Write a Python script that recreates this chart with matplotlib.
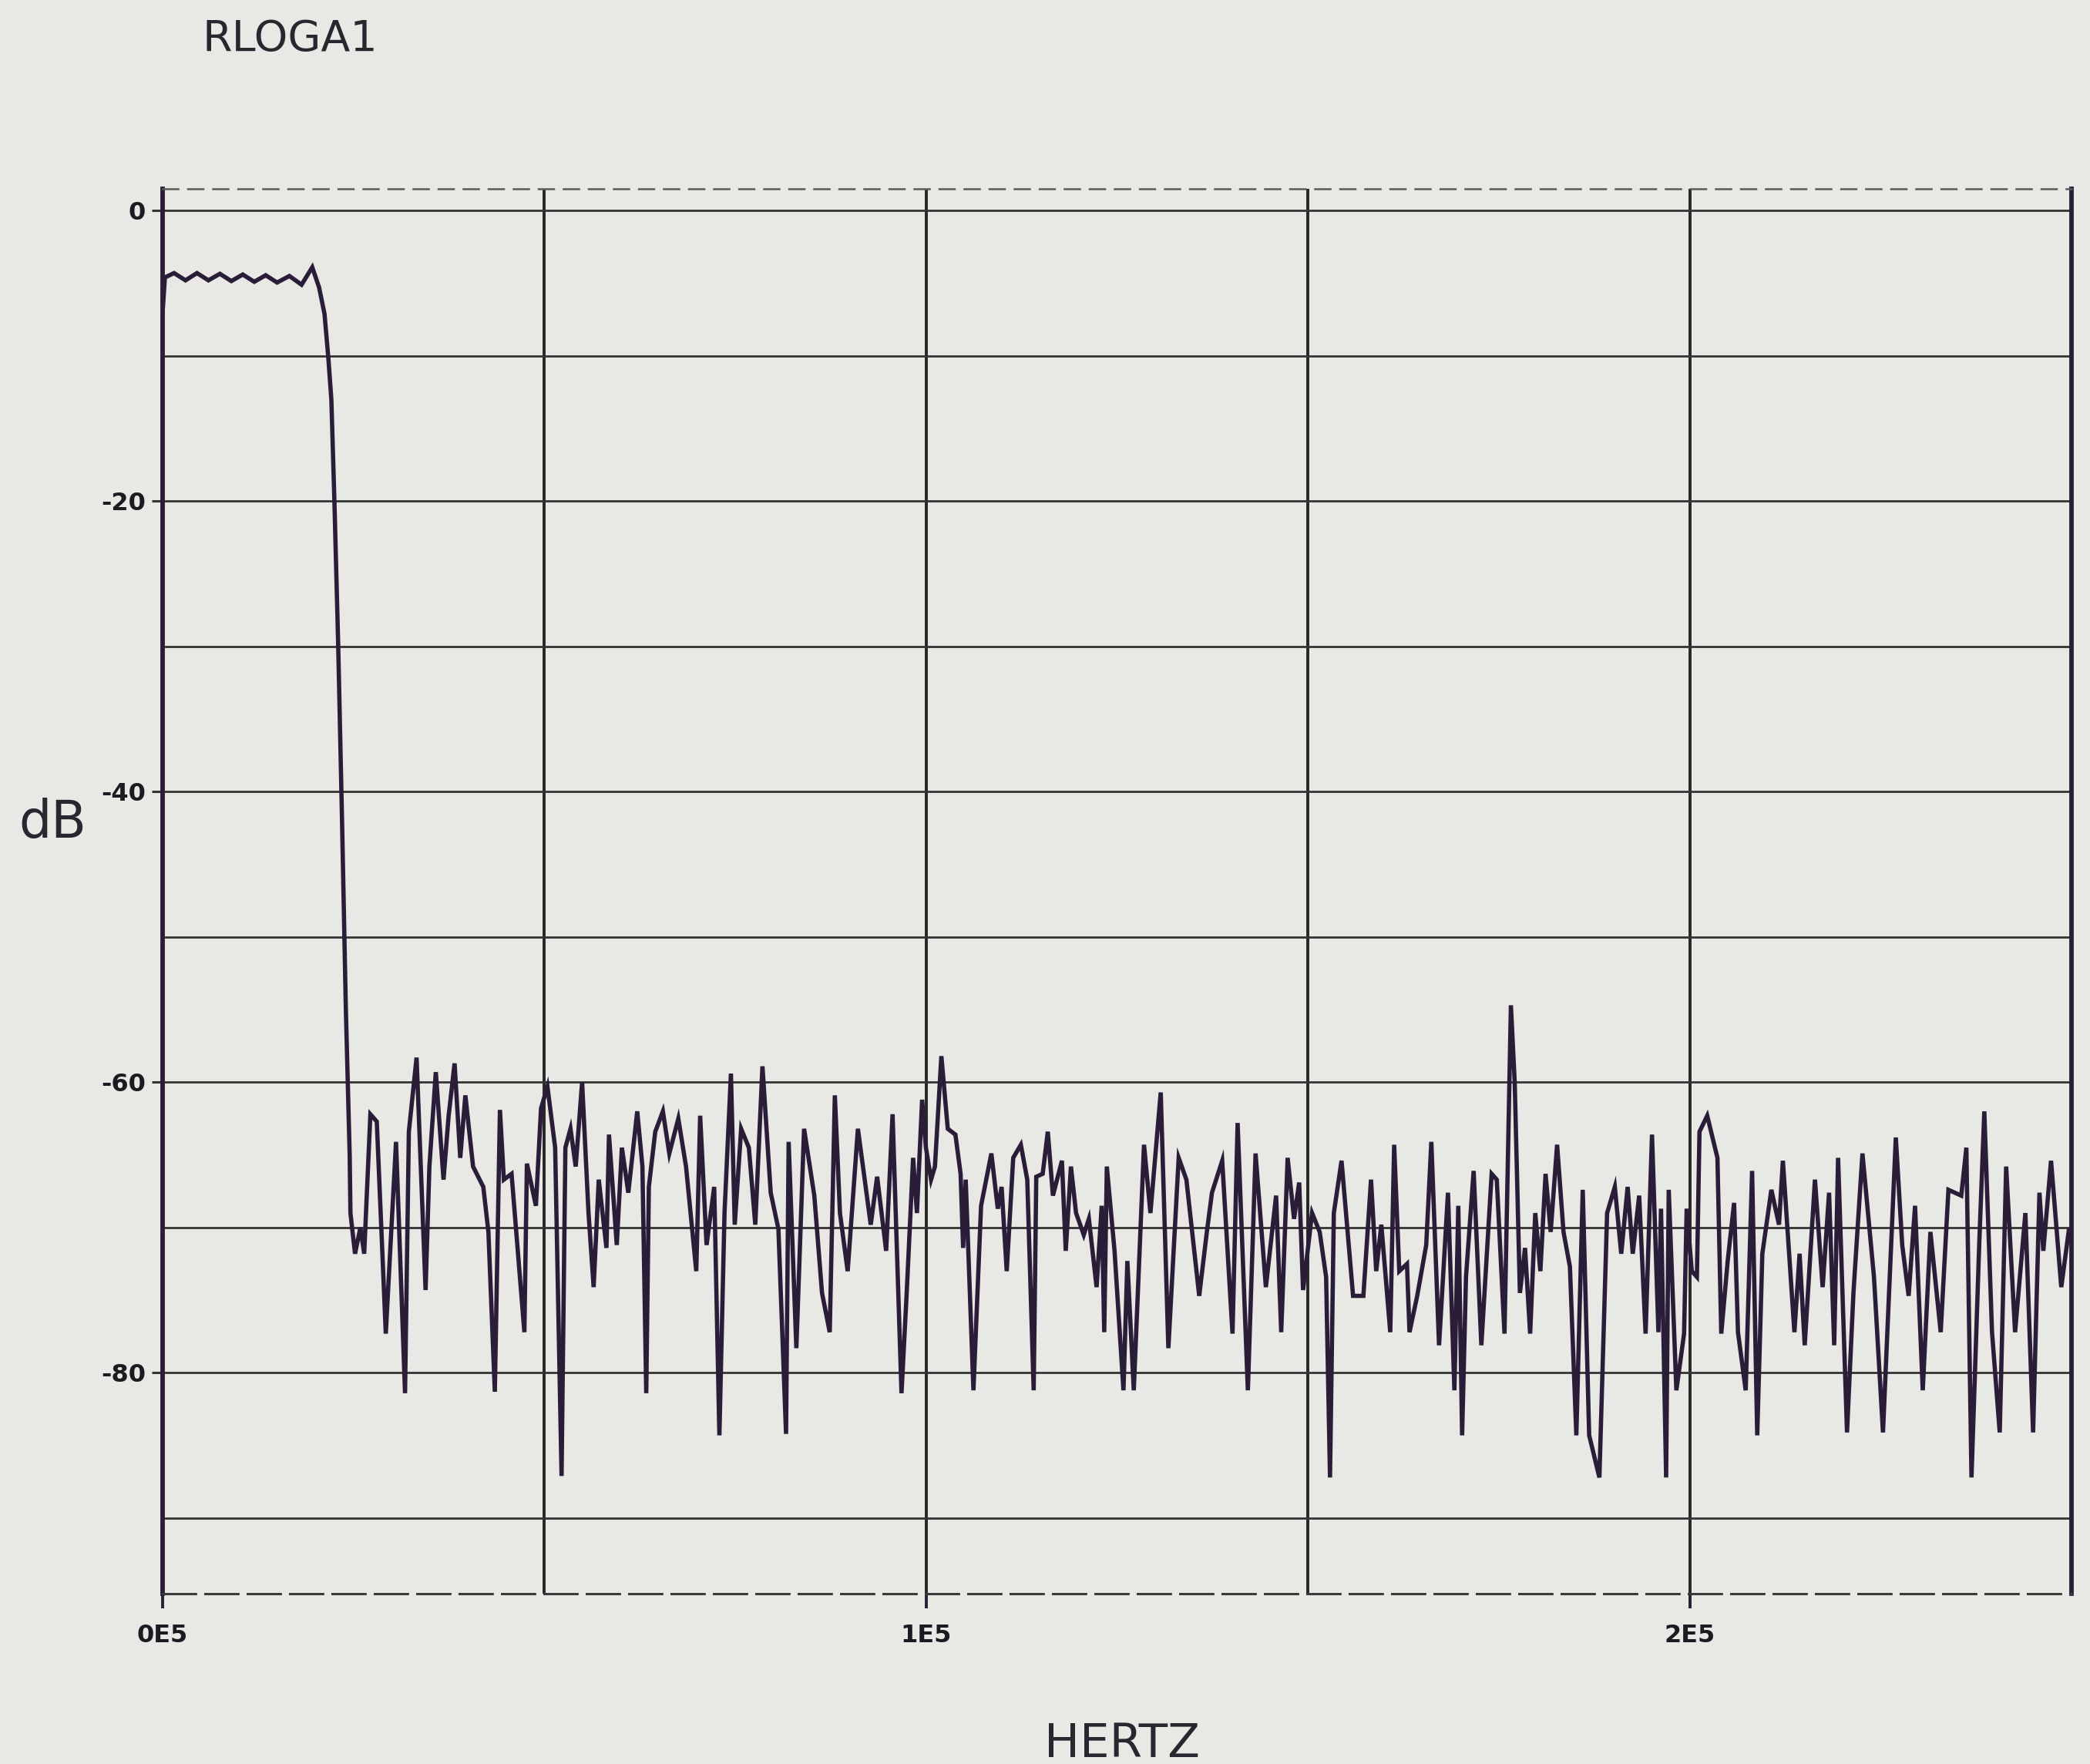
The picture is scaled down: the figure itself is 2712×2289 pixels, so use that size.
import matplotlib
matplotlib.use("Agg")
import matplotlib.pyplot as plt
import numpy as np

# ---------------- data ----------------
pass_khz = [0.0, 0.3, 1.5, 3.0, 4.5, 6.0, 7.5, 9.0, 10.5, 12.0, 13.5, 15.0, 16.6, 18.2, 19.6]
pass_db = [-7.0, -4.6, -4.3, -4.8, -4.3, -4.8, -4.35, -4.85, -4.4, -4.9, -4.45, -4.95, -4.5, -5.1, -3.9]

trans_khz = [20.5, 21.2, 21.7, 22.1, 22.5, 23.0, 23.5, 24.0, 24.5]
trans_db = [-5.3, -7.1, -10.1, -13.0, -20.0, -30.0, -42.0, -55.0, -65.0]

stop_khz = [
    24.6, 25.2, 25.9, 26.4, 27.21, 28.05, 29.23, 30.57, 31.75, 32.25, 33.26, 34.44, 34.94, 35.78,
    36.79, 37.46, 38.24, 38.98, 39.65, 40.66, 42.00, 42.67, 43.51, 44.18, 44.69, 45.70, 47.38,
    47.71, 48.89, 49.56, 50.40, 51.41, 52.25, 52.75, 53.42, 54.10, 54.94, 55.78, 56.45, 57.12,
    58.13, 58.46, 59.48, 60.15, 60.99, 62.16, 62.84, 63.34, 63.68, 64.52, 65.52, 66.36, 67.54,
    68.55, 69.89, 70.40, 71.24, 72.24, 72.92, 73.59, 74.43, 74.93, 75.77, 76.78, 77.62, 78.56,
    79.64, 80.65, 81.65, 81.99, 83.00, 84.01, 85.35, 86.36, 87.37, 88.04, 88.71, 89.72, 91.06,
    92.74, 93.58, 94.76, 95.60, 96.77, 97.45, 98.29, 98.79, 99.47, 99.97, 100.64, 101.15, 101.99,
    102.83, 103.83, 104.51, 104.84, 105.18, 106.19, 107.19, 108.54, 109.38, 109.88, 110.55,
    111.40, 112.40, 113.24, 114.08, 114.42, 115.26, 115.93, 116.60, 117.78, 118.28, 118.96,
    119.63, 120.64, 121.31, 122.32, 122.99, 123.32, 123.66, 124.67, 125.84, 126.35, 127.19,
    128.53, 129.37, 130.72, 131.72, 133.07, 134.08, 135.76, 136.76, 137.43, 138.77, 140.12,
    140.79, 142.13, 143.14, 144.49, 145.83, 146.50, 147.34, 148.18, 148.85, 149.36, 150.54,
    151.54, 152.38, 152.89, 153.39, 154.40, 155.91, 157.26, 158.26, 158.94, 159.61, 160.78,
    161.29, 161.96, 162.97, 163.30, 164.31, 165.49, 166.16, 167.17, 168.34, 169.18, 169.69,
    170.19, 170.70, 171.70, 172.71, 174.06, 174.73, 175.74, 176.58, 177.08, 177.76, 178.43,
    179.10, 179.77, 180.44, 181.12, 181.79, 182.63, 183.47, 184.31, 185.15, 185.99, 186.83,
    188.17, 189.18, 190.19, 191.03, 191.87, 192.54, 193.38, 194.22, 195.06, 195.90, 196.24,
    196.91, 197.25, 198.25, 199.26, 199.60, 200.27, 200.94, 201.28, 202.29, 203.63, 204.13,
    204.97, 205.81, 206.32, 207.33, 208.17, 208.84, 209.51, 210.69, 211.69, 212.20, 213.71,
    214.39, 215.06, 216.40, 217.41, 218.25, 218.92, 219.43, 220.60, 221.44, 222.62, 224.13,
    225.31, 226.99, 227.83, 228.67, 229.51, 230.52, 231.52, 232.87, 233.88, 235.56, 236.23,
    236.90, 237.91, 238.58, 239.59, 240.60, 241.44, 242.61, 243.96, 244.97, 245.80, 246.31,
    247.32, 248.66, 249.67, 250.0]
stop_db = [
    -69.0, -71.8, -70.0, -71.8, -62.2, -62.7, -77.3, -64.1, -81.4, -63.4, -58.3, -74.3, -65.8, -59.3,
    -66.7, -62.3, -58.7, -65.2, -60.9, -65.8, -67.2, -70.3, -81.3, -61.9, -66.7, -66.3, -77.2,
    -65.6, -68.5, -61.8, -60.3, -64.5, -87.1, -64.5, -63.2, -65.8, -60.0, -69.0, -74.1, -66.7,
    -71.4, -63.6, -71.2, -64.5, -67.6, -62.0, -65.8, -81.4, -67.2, -63.4, -62.0, -64.9, -62.5,
    -65.8, -73.0, -62.3, -71.2, -67.2, -84.3, -69.0, -59.4, -69.8, -63.2, -64.5, -69.8, -58.9,
    -67.6, -70.1, -84.2, -64.1, -78.3, -63.2, -67.8, -74.5, -77.2, -60.9, -69.0, -73.0, -63.2,
    -69.8, -66.5, -71.6, -62.2, -81.4, -74.5, -65.2, -69.0, -61.2, -64.5, -66.7, -65.8, -58.2,
    -63.2, -63.6, -66.3, -71.4, -66.7, -81.2, -68.5, -64.9, -68.7, -67.2, -73.0,
    -65.2, -64.3, -66.7, -81.2, -66.5, -66.3, -63.4, -67.8, -65.4, -71.6, -65.8,
    -69.0, -70.5, -69.4, -74.1, -68.5, -77.2, -65.8, -71.6, -81.2, -72.3, -81.2,
    -64.3, -69.0, -60.7, -78.3, -65.2, -66.7, -74.7, -70.3, -67.6, -65.4, -77.3,
    -62.8, -81.2, -64.9, -74.1, -67.8, -77.2, -65.2, -69.4, -66.9, -74.3, -69.0,
    -70.3, -73.4, -87.2, -69.0, -65.4, -74.7, -74.7, -66.7, -73.0, -69.8, -77.2,
    -64.3, -73.0, -72.5, -77.2, -74.7, -71.2, -64.1, -78.1, -67.6, -81.2, -68.5,
    -84.3, -73.4, -66.1, -78.1, -66.3, -66.7, -77.3, -54.7, -60.0, -74.5, -71.4,
    -77.3, -69.0, -73.0, -66.3, -70.3, -64.3, -70.3, -72.7, -84.3, -67.4, -84.3,
    -87.2, -69.0, -67.2, -71.8, -67.2, -71.8, -67.8, -77.3, -63.6, -77.2, -68.7,
    -87.2, -67.4, -81.2, -77.3, -68.7, -73.0, -73.4, -63.4, -62.3, -65.2, -77.3,
    -72.3, -68.3, -77.2, -81.2, -66.1, -84.3, -71.8, -67.4, -69.8, -65.4, -77.2,
    -71.8, -78.1, -66.7, -74.1, -67.6, -78.1, -65.2, -84.1, -74.5, -64.9, -73.4,
    -84.1, -63.8, -71.2, -74.7, -68.5, -81.2, -70.3, -77.2, -67.4, -67.8, -64.5,
    -87.2, -71.2, -62.0, -77.2, -84.1, -65.8, -77.2, -69.0, -84.1, -67.6, -71.6,
    -65.4, -74.1, -70.1, -71.0]

y_major = [0, -20, -40, -60, -80]
y_labels = ["0", "-20", "-40", "-60", "-80"]
y_minor = [-10, -30, -50, -70, -90]
x_major = [0, 100000, 200000]
x_labels = ["0E5", "1E5", "2E5"]
x_minor = [50000, 150000, 250000]

# ---------------- figure ----------------
W, H = 2712, 2289
BG = "#e8e8e5"
INK = "#2a1d38"
GRID = "#333333"

fig = plt.figure(figsize=(W / 100, H / 100), dpi=100, facecolor=BG)
ax = fig.add_axes([211 / W, 1 - 2068 / H, (2688 - 211) / W, (2068 - 245) / H], facecolor=BG)

freq_hz = np.array(pass_khz + trans_khz + stop_khz) * 1000.0
gain_db = np.array(pass_db + trans_db + stop_db)
ax.plot(freq_hz, gain_db, color=INK, lw=4.0, solid_joinstyle="miter", zorder=3)

ax.set_xlim(0, 250000)
ax.set_ylim(-95.2, 1.5)

ax.set_yticks(y_major)
ax.set_yticklabels(y_labels)
ax.set_yticks(y_minor, minor=True)
ax.set_xticks(x_major)
ax.set_xticklabels(x_labels)
ax.set_xticks(x_minor, minor=True)

ax.grid(True, which="both", axis="y", color=GRID, lw=2.0)
ax.grid(True, which="both", axis="x", color="#262626", lw=2.8)
ax.set_axisbelow(True)

ax.tick_params(axis="y", which="major", direction="out", length=10, width=2.2,
               color=GRID, pad=6, labelsize=23, labelcolor="#1e1a22")
ax.tick_params(axis="x", which="major", direction="out", length=14, width=2.8,
               color=INK, pad=14, labelsize=23, labelcolor="#1e1a22")
ax.tick_params(which="minor", length=0)
for lab in ax.get_xticklabels() + ax.get_yticklabels():
    lab.set_fontweight("bold")

for side in ("left", "right"):
    ax.spines[side].set_color(INK)
    ax.spines[side].set_linewidth(4.2)
ax.spines["top"].set_color("#5a5a5a")
ax.spines["top"].set_linewidth(1.8)
ax.spines["top"].set_linestyle((0, (8, 5)))
ax.spines["bottom"].set_color("#3a3a3a")
ax.spines["bottom"].set_linewidth(2.2)
ax.spines["bottom"].set_linestyle((0, (14, 4)))

fig.text(263 / W, 1 - 66 / H, "RLOGA1", fontsize=40, color="#2a2630",
         ha="left", va="baseline", family="DejaVu Sans")
fig.text(24 / W, 1 - 1068 / H, "dB", fontsize=48, color="#2a2630",
         ha="left", va="center", family="DejaVu Sans")
fig.text(1456 / W, 1 - 2280 / H, "HERTZ", fontsize=44, color="#2a2630",
         ha="center", va="baseline", family="DejaVu Sans")

fig.savefig("out.png", dpi=100, facecolor=BG)
